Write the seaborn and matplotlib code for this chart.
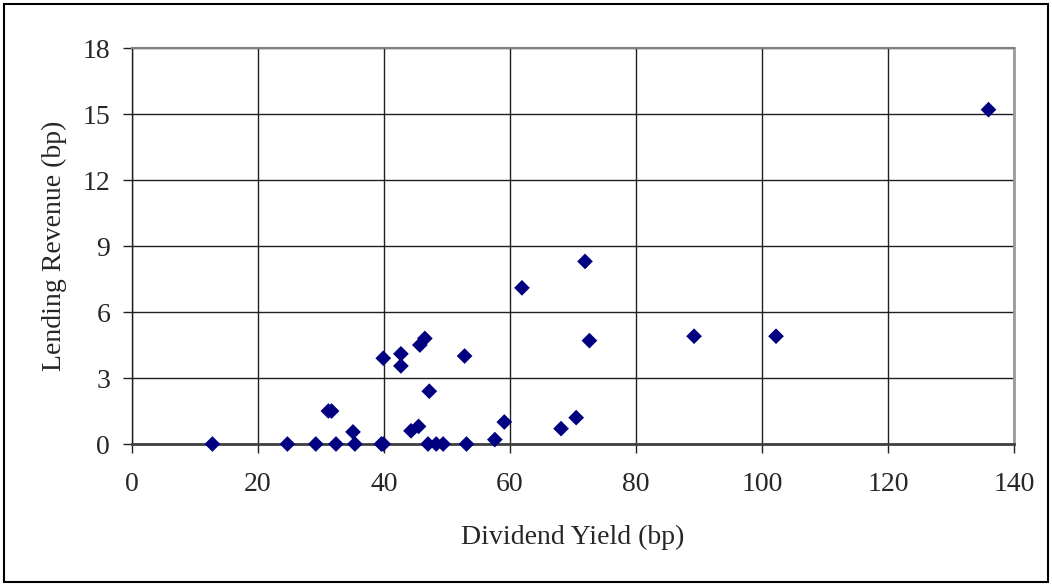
#!/usr/bin/env python3
"""
Scatter of lending revenue against dividend yield.
"""

import pandas as pd
import matplotlib
matplotlib.use("Agg")
import matplotlib.pyplot as plt
from matplotlib.patches import Rectangle
import seaborn as sns

# values (bp)
dividend_yield = [12.8, 24.7, 29.2, 31.2, 31.7, 32.4, 35.1, 35.4, 39.6, 39.9,
                  39.9, 42.7, 42.7, 44.3, 45.5, 45.7, 46.5, 47.0, 47.2, 48.3,
                  49.4, 52.8, 53.1, 57.6, 59.1, 61.9, 68.1, 70.5, 71.9, 72.6,
                  89.2, 102.2, 135.9]
lending_revenue = [0, 0, 0, 1.5, 1.5, 0, 0.55, 0, 0, 0,
                   3.9, 4.1, 3.55, 0.6, 0.8, 4.5, 4.8, 0, 2.4, 0,
                   0, 4.0, 0, 0.2, 1.0, 7.1, 0.7, 1.2, 8.3, 4.7,
                   4.9, 4.9, 15.2]
x_ticks = [0, 20, 40, 60, 80, 100, 120, 140]
y_ticks = [0, 3, 6, 9, 12, 15, 18]

df = pd.DataFrame({"Dividend Yield": dividend_yield,
                   "Lending Revenue": lending_revenue})

sns.set_style("white")
plt.rcParams["font.family"] = ["Liberation Serif", "DejaVu Serif"]
plt.rcParams["font.size"] = 20

fig = plt.figure(figsize=(10.52, 5.86), dpi=100)
ax = fig.add_axes([0.1252, 0.2423, 0.8390, 0.6757])

ax.grid(True, color="#202020", linewidth=1)
ax.set_axisbelow(True)

sns.scatterplot(data=df, x="Dividend Yield", y="Lending Revenue", ax=ax,
                marker="D", s=64, color="#000080", edgecolor="none",
                linewidth=0, zorder=3)
# points sitting on zero must not be cut by the axes edge
for coll in ax.collections:
    coll.set_clip_on(False)

ax.set_xlim(0, 140)
ax.set_ylim(0, 18)
ax.set_xticks(x_ticks)
ax.set_yticks(y_ticks)
ax.tick_params(axis="both", direction="out", length=6.5, width=1,
               color="#202020", labelsize=20, left=True, bottom=True)
ax.tick_params(axis="y", pad=9)
ax.tick_params(axis="x", pad=14)

ax.spines["left"].set_color("#202020")
ax.spines["left"].set_linewidth(1)
ax.spines["bottom"].set_color("#404040")
ax.spines["bottom"].set_linewidth(2)
ax.spines["top"].set_color("#808080")
ax.spines["top"].set_linewidth(1.5)
ax.spines["right"].set_color("#9a9a9a")
ax.spines["right"].set_linewidth(2)

ax.set_xlabel("Dividend Yield (bp)", fontsize=20, labelpad=20)
ax.set_ylabel("Lending Revenue (bp)", fontsize=20, labelpad=11)

# outer frame around the whole chart
fig.patches.append(Rectangle((0.004, 0.006), 0.992, 0.988,
                             transform=fig.transFigure, fill=False,
                             edgecolor="black", linewidth=1.5))

fig.savefig("out.png", dpi=100)
plt.close(fig)
